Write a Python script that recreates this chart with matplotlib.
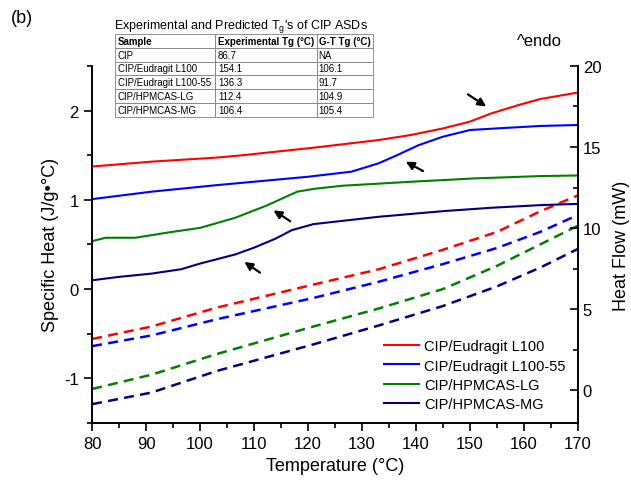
import numpy as np
import matplotlib
matplotlib.use('Agg')
import matplotlib.pyplot as plt
from matplotlib.ticker import MultipleLocator

plt.rcParams['font.family'] = ['Liberation Sans', 'DejaVu Sans']
plt.rcParams['axes.unicode_minus'] = False

# Heat flow (solid, right axis, mW)
T_red = [80, 91, 103, 108, 121, 133, 139, 145, 150, 154, 159, 163, 170]
hf_red = [13.8, 14.1, 14.35, 14.5, 14.96, 15.43, 15.74, 16.15, 16.57, 17.08, 17.59, 17.96, 18.36]
T_blue = [80, 91, 103, 120, 128, 133, 136.5, 140.5, 145, 150, 155, 163, 170]
hf_blue = [11.79, 12.25, 12.65, 13.17, 13.48, 13.99, 14.5, 15.12, 15.64, 16.05, 16.15, 16.3, 16.36]
T_green = [80, 82.5, 88, 94, 100, 106.5, 112.5, 118, 121, 126.5, 139, 151, 163, 170]
hf_green = [9.2, 9.41, 9.41, 9.73, 10.02, 10.64, 11.42, 12.25, 12.42, 12.62, 12.86, 13.07, 13.21, 13.25]
T_navy = [80, 85, 91, 96.5, 100, 106.5, 110, 114, 117, 121, 133, 145, 154, 163, 170]
hf_navy = [6.79, 7.0, 7.2, 7.47, 7.82, 8.38, 8.8, 9.36, 9.88, 10.25, 10.7, 11.05, 11.26, 11.42, 11.5]

# Specific heat (dashed, left axis, J/g C)
T_cp = [80, 91, 103, 121, 133, 145, 155, 163, 170]
cp_red = [-0.56, -0.42, -0.21, 0.05, 0.22, 0.44, 0.64, 0.87, 1.05]
cp_blue = [-0.64, -0.52, -0.34, -0.1, 0.08, 0.28, 0.46, 0.64, 0.83]
cp_green = [-1.12, -0.96, -0.73, -0.42, -0.22, 0.0, 0.26, 0.5, 0.71]
cp_navy = [-1.29, -1.16, -0.92, -0.62, -0.41, -0.19, 0.03, 0.24, 0.45]

labels = ['CIP/Eudragit L100', 'CIP/Eudragit L100-55', 'CIP/HPMCAS-LG', 'CIP/HPMCAS-MG']
colors = ['#ff0000', '#0000ff', '#008000', '#000080']

# Tg arrows (tail T, tail mW, head T, head mW)
arrows = [(149.6, 18.25, 153.0, 17.5), (141.3, 13.52, 138.1, 14.1),
          (116.7, 10.43, 113.6, 11.1), (111.1, 7.26, 108.2, 7.92)]

table_rows = [['Sample', 'Experimental Tg (°C)', 'G-T Tg (°C)'],
              ['CIP', '86.7', 'NA'],
              ['CIP/Eudragit L100', '154.1', '106.1'],
              ['CIP/Eudragit L100-55', '136.3', '91.7'],
              ['CIP/HPMCAS-LG', '112.4', '104.9'],
              ['CIP/HPMCAS-MG', '106.4', '105.4']]

fig = plt.figure(figsize=(6.31, 4.85), dpi=100)
ax = fig.add_axes([0.146, 0.126, 0.77, 0.736])
ax2 = ax.twinx()

hf_T = [T_red, T_blue, T_green, T_navy]
hf = [hf_red, hf_blue, hf_green, hf_navy]
cp = [cp_red, cp_blue, cp_green, cp_navy]
handles = []
for i in range(4):
    h, = ax2.plot(hf_T[i], hf[i], color=colors[i], lw=1.5, label=labels[i])
    handles.append(h)
    ax.plot(T_cp, cp[i], color=colors[i], lw=1.8, ls=(0, (4, 2.5)))

for t0, y0, t1, y1 in arrows:
    ax2.annotate('', xy=(t1, y1), xytext=(t0, y0),
                 arrowprops=dict(arrowstyle='-|>', color='black', lw=1.6, mutation_scale=12,
                                 shrinkA=0, shrinkB=0))

ax.set_xlim(80, 170)
ax.set_ylim(-1.5, 2.5)
ax2.set_ylim(-2, 20)
ax.xaxis.set_major_locator(MultipleLocator(10))
ax.xaxis.set_minor_locator(MultipleLocator(5))
ax.yaxis.set_major_locator(MultipleLocator(1))
ax.yaxis.set_minor_locator(MultipleLocator(0.5))
ax2.yaxis.set_major_locator(MultipleLocator(5))
ax2.yaxis.set_minor_locator(MultipleLocator(2.5))
for a in (ax, ax2):
    a.spines['top'].set_visible(False)
    for s in a.spines.values():
        s.set_linewidth(1.2)
ax.tick_params(which='major', direction='out', length=6, width=1.2, labelsize=12)
ax.tick_params(which='minor', direction='out', length=3.5, width=1.2)
ax2.tick_params(which='major', direction='in', length=6, width=1.2, labelsize=12)
ax2.tick_params(which='minor', direction='in', length=3.5, width=1.2)

ax.set_xlabel('Temperature (°C)', fontsize=13)
ax.set_ylabel('Specific Heat (J/g•°C)', fontsize=13)
ax2.set_ylabel('Heat Flow (mW)', fontsize=13, labelpad=8)

ax2.legend(handles=handles, loc='upper left', bbox_to_anchor=(0.6, 0.31),
           bbox_transform=fig.transFigure, frameon=False, fontsize=10.5,
           handlelength=2.4, handletextpad=0.3, labelspacing=0.35, borderaxespad=0)

fig.text(0.018, 0.952, '(b)', fontsize=13)
fig.text(0.82, 0.905, '^endo', fontsize=12)
fig.text(0.18, 0.94, "Experimental and Predicted T$_\\mathregular{g}$'s of CIP ASDs", fontsize=9)

tbl = ax.table(cellText=table_rows, cellLoc='left',
               colWidths=[0.388, 0.395, 0.217],
               bbox=[0.182, 0.757, 0.409, 0.171], transform=fig.transFigure)
tbl.auto_set_font_size(False)
tbl.set_fontsize(7)
for (r, c), cell in tbl.get_celld().items():
    cell.set_edgecolor('#808080')
    cell.set_linewidth(0.6)
    cell.PAD = 0.03
    if r == 0:
        cell.get_text().set_fontweight('bold')

fig.savefig('out.png', dpi=100, facecolor='white')
